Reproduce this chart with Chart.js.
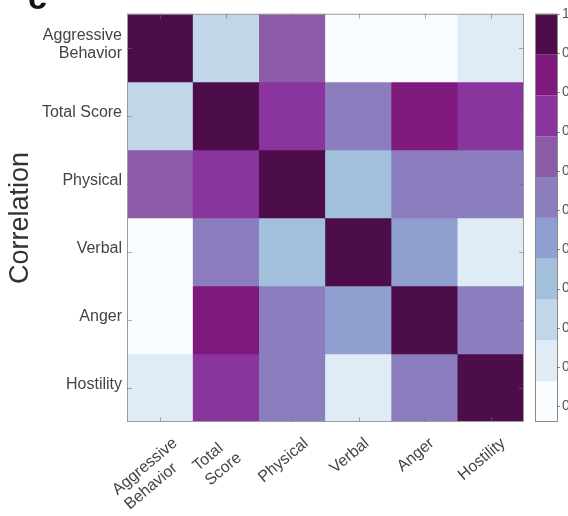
<!DOCTYPE html>
<html>
<head>
<meta charset="utf-8">
<script src="https://cdn.jsdelivr.net/npm/chart.js@4/dist/chart.umd.min.js"></script>
<style>
  html, body { margin: 0; padding: 0; background: #fff; overflow: hidden; }
</style>
</head>
<body>
<canvas id="chart" width="568" height="516"></canvas>
<script>
const columnLabels = [["Aggressive", "Behavior"], ["Total", "Score"], "Physical", "Verbal", "Anger", "Hostility"];
const rowLabels = [["Aggressive", "Behavior"], "Total Score", "Physical", "Verbal", "Anger", "Hostility"];

// correlation matrix, rows top to bottom, columns left to right
const correlations = [
  [1.00, 0.22, 0.63, 0.01, -0.04, 0.12],
  [0.22, 1.00, 0.74, 0.53, 0.84, 0.75],
  [0.63, 0.74, 1.00, 0.32, 0.54, 0.55],
  [0.01, 0.53, 0.32, 1.00, 0.44, 0.10],
  [-0.04, 0.84, 0.54, 0.44, 1.00, 0.55],
  [0.12, 0.75, 0.55, 0.10, 0.55, 1.00],
];

const colorbarTicks = [1, 0.9, 0.8, 0.7, 0.6, 0.5, 0.4, 0.3, 0.2, 0.1, 0];
const colorbarMin = -0.04;
const colorbarMax = 1;

// discrete colormap, low to high
const binColors = [
  "#f9fcfe", "#dfebf5", "#c2d6e9", "#a2c0dc", "#8f9fcf",
  "#8c7ebe", "#8b5ba8", "#8a349d", "#7f197c", "#4c0d4a",
];

const FONT = "'Liberation Sans', Arial, sans-serif";
Chart.defaults.font.family = FONT;
Chart.defaults.color = "#444";

function colorFor(v) {
  const step = (colorbarMax - colorbarMin) / binColors.length;
  const bin = Math.min(binColors.length - 1, Math.max(0, Math.floor((v - colorbarMin) / step)));
  return binColors[bin];
}

// rotated column labels, roughly centred under their tick, lines left-aligned
function drawColumnLabels(chart) {
  const { ctx, chartArea: a, scales } = chart;
  const angle = (40 * Math.PI) / 180;
  const lh = 19;
  const pad = 12;
  ctx.save();
  ctx.font = "16px " + FONT;
  ctx.fillStyle = "#444";
  ctx.textAlign = "left";
  ctx.textBaseline = "middle";
  chart.data.labels.forEach((label, i) => {
    const lines = Array.isArray(label) ? label : [label];
    const L = Math.max(...lines.map((s) => ctx.measureText(s).width));
    const H = lines.length * lh;
    const x = scales.x.getPixelForTick(i) - (L * Math.cos(angle) + H * Math.sin(angle)) / 2 - 9;
    const y = a.bottom + pad + L * Math.sin(angle);
    ctx.save();
    ctx.translate(x, y);
    ctx.rotate(-angle);
    lines.forEach((s, k) => ctx.fillText(s, 0, lh * (k + 0.5)));
    ctx.restore();
  });
  ctx.restore();
}

const frame = {
  id: "frame",
  beforeDraw(chart) {
    const ctx = chart.ctx;
    ctx.save();
    ctx.fillStyle = "#fff";
    ctx.fillRect(0, 0, chart.width, chart.height);
    ctx.restore();
  },
  afterDatasetsDraw(chart) {
    const { ctx, chartArea: a, scales } = chart;
    ctx.save();

    // box round the heatmap
    ctx.strokeStyle = "#9c9c9c";
    ctx.lineWidth = 1;
    ctx.strokeRect(a.left + 0.5, a.top + 0.5, a.width - 1, a.height - 1);

    // inward ticks
    ctx.strokeStyle = "rgba(110,110,110,0.55)";
    ctx.beginPath();
    scales.x.ticks.forEach((t, i) => {
      const x = Math.round(scales.x.getPixelForTick(i)) + 0.5;
      ctx.moveTo(x, a.top); ctx.lineTo(x, a.top + 5);
      ctx.moveTo(x, a.bottom); ctx.lineTo(x, a.bottom - 5);
    });
    scales.y.ticks.forEach((t) => {
      const y = Math.round(scales.y.getPixelForValue(t.value)) + 0.5;
      ctx.moveTo(a.left, y); ctx.lineTo(a.left + 5, y);
      ctx.moveTo(a.right, y); ctx.lineTo(a.right - 5, y);
    });
    ctx.stroke();

    // colorbar
    const cb = scales.cb;
    const x0 = a.right + 11;
    const w = 22;
    const step = (colorbarMax - colorbarMin) / binColors.length;
    binColors.forEach((c, i) => {
      const y1 = cb.getPixelForValue(colorbarMin + i * step);
      const y2 = cb.getPixelForValue(colorbarMin + (i + 1) * step);
      ctx.fillStyle = c;
      ctx.fillRect(x0, y2, w, y1 - y2);
    });
    ctx.strokeStyle = "#8a8a8a";
    ctx.strokeRect(x0 + 0.5, a.top + 0.5, w, a.height - 1);
    ctx.strokeStyle = "rgba(90,90,90,0.7)";
    ctx.beginPath();
    colorbarTicks.forEach((v) => {
      const y = Math.round(cb.getPixelForValue(v)) + 0.5;
      ctx.moveTo(x0 + w, y); ctx.lineTo(x0 + w + 3, y);
    });
    ctx.stroke();

    // panel letter
    ctx.fillStyle = "#111";
    ctx.font = "bold 34px " + FONT;
    ctx.textBaseline = "alphabetic";
    ctx.fillText("c", 28, 9);
    ctx.restore();

    drawColumnLabels(chart);
  },
};

const datasets = rowLabels.map((_, r) => ({
  data: columnLabels.map(() => [r - 0.5, r + 0.5]),
  backgroundColor: correlations[r].map(colorFor),
  borderWidth: 0,
  barPercentage: 1,
  categoryPercentage: 1,
}));

new Chart(document.getElementById("chart").getContext("2d"), {
  type: "bar",
  data: { labels: columnLabels, datasets },
  options: {
    responsive: false,
    animation: false,
    events: [],
    layout: { padding: { top: 10, left: 0, right: 0, bottom: 0 } },
    plugins: { legend: { display: false }, tooltip: { enabled: false } },
    scales: {
      x: {
        stacked: true,
        offset: true,
        grid: { display: false, drawTicks: false },
        border: { display: false },
        ticks: { display: false, autoSkip: false },
        afterFit: (s) => { s.height = 94; },
      },
      y: {
        type: "linear",
        min: -0.5,
        max: 5.5,
        reverse: true,
        stacked: false,
        afterBuildTicks: (s) => { s.ticks = rowLabels.map((_, i) => ({ value: i })); },
        grid: { display: false, drawTicks: false },
        border: { display: false },
        ticks: {
          autoSkip: false,
          padding: 5,
          labelOffset: -3,
          color: "#444",
          font: { size: 16, lineHeight: 1.1 },
          callback: (v) => rowLabels[v],
        },
        title: {
          display: true,
          text: "Correlation",
          color: "#333",
          font: { size: 27 },
          padding: { top: 4, bottom: 0 },
        },
        afterFit: (s) => { s.width = 127; },
      },
      cb: {
        type: "linear",
        position: "right",
        min: colorbarMin,
        max: colorbarMax,
        afterBuildTicks: (s) => { s.ticks = colorbarTicks.map((v) => ({ value: v })); },
        grid: { drawOnChartArea: false, tickLength: 36, tickColor: "transparent" },
        border: { display: false },
        ticks: {
          autoSkip: false,
          padding: 2,
          color: "#555",
          font: { size: 14 },
          callback: (v) => (v === 0 || v === 1 ? String(v) : v.toFixed(1)),
        },
        afterFit: (s) => { s.width = 44; },
      },
    },
  },
  plugins: [frame],
});
</script>
</body>
</html>
